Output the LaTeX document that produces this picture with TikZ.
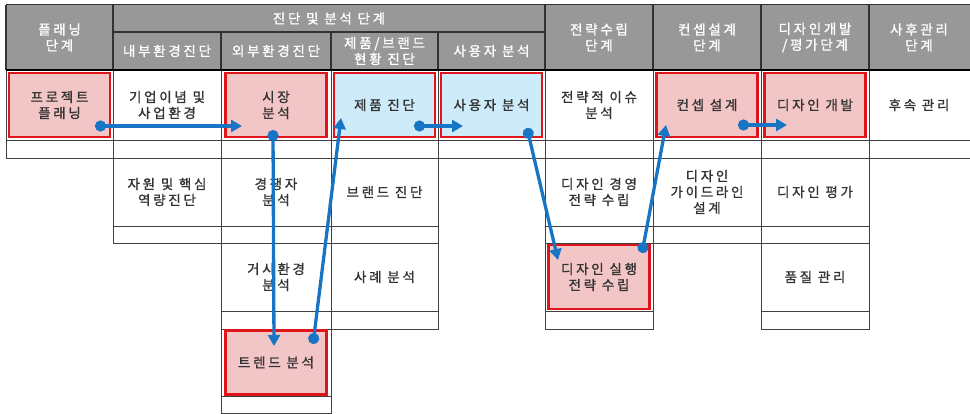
\documentclass[tikz,border=0pt]{standalone}
\usepackage{fontspec}
\newfontfamily\kr[LetterSpace=20,FakeBold=1.2]{Noto Sans CJK KR}
\usetikzlibrary{arrows.meta,positioning,calc}
\definecolor{hdrgray}{HTML}{989898}
\definecolor{hotfill}{HTML}{F2C5C6}
\definecolor{coolfill}{HTML}{CDEBF8}
\definecolor{hotred}{HTML}{E0141B}
\definecolor{flowblue}{HTML}{1874C4}

\begin{document}
\begin{tikzpicture}[
    x=1pt, y=-1pt,
    grid/.style={draw=black!75, line width=0.7pt},
    hdrline/.style={draw=black!80, line width=1.4pt},
    cell/.style={align=center, inner sep=0pt, font=\kr\fontsize{13.5}{16}\selectfont, text=black!80},
    hdr/.style={cell, text=white!90},
    hot/.style={cell, draw=hotred, line width=2.8pt, fill=hotfill, minimum width=101pt, minimum height=64pt},
    cool/.style={hot, fill=coolfill},
    flow/.style={draw=flowblue, line width=3.3pt, {Circle[length=11pt]}-{Triangle[length=11pt,width=12pt]}}
  ]
  \useasboundingbox (0,0) rectangle (970,414);

  % header
  \fill[hdrgray] (6,5) rectangle (972,70);
  \draw[hdrline, line width=1pt] (6,5) -- (972,5);
  \draw[hdrline] (6,5) -- (6,70) (113,5) -- (113,70) (545,5) -- (545,70)
    (653,5) -- (653,70) (761,5) -- (761,70) (869,5) -- (869,70);
  \draw[hdrline] (113,32) -- (545,32) (221,32) -- (221,70)
    (331,32) -- (331,70) (438,32) -- (438,70);

  \node[hdr] (hplan)  at (59.5,37.5) {플래닝\\단계};
  \node[hdr] (hdiag)  at (329,18.5)  {진단 및 분석 단계};
  \node[hdr] (hint)   at (167,51)    {내부환경진단};
  \node[hdr] (hext)   at (276,51)    {외부환경진단};
  \node[hdr] (hprod)  at (384.5,51)  {제품/브랜드\\현황 진단};
  \node[hdr] (huser)  at (491.5,51)  {사용자 분석};
  \node[hdr] (hstrat) at (599,37.5)  {전략수립\\단계};
  \node[hdr] (hconc)  at (707,37.5)  {컨셉설계\\단계};
  \node[hdr] (hdev)   at (815,37.5)  {디자인개발\\/평가단계};
  \node[hdr] (hpost)  at (919,37.5)  {사후관리\\단계};

  % table body
  \draw[grid] (6,140) -- (972,140) (6,158) -- (972,158);
  \draw[grid] (6,70) -- (6,158) (113,70) -- (113,158) (221,70) -- (221,158)
    (331,70) -- (331,158) (438,70) -- (438,158) (545,70) -- (545,158)
    (653,70) -- (653,158) (761,70) -- (761,158) (869,70) -- (869,158);
  \draw[grid] (113,158) rectangle (438,243) (113,226) -- (438,226)
    (221,158) -- (221,243) (331,158) -- (331,243);
  \draw[grid] (545,158) rectangle (869,243) (545,226) -- (869,226)
    (653,158) -- (653,243) (761,158) -- (761,243);
  \draw[grid] (221,243) rectangle (438,329) (221,311) -- (438,311)
    (331,243) -- (331,329);
  \draw[grid] (545,243) rectangle (653,329) (545,311) -- (653,311);
  \draw[grid] (761,243) rectangle (869,329) (761,311) -- (869,311);
  \draw[grid] (221,329) rectangle (331,413) (221,396) -- (331,396);
  \draw[black, line width=2pt] (6,70) -- (972,70);

  \node[hot]  (plan)    at (59.5,105) {프로젝트\\플래닝};
  \node[cell] (corp)    at (167,105)  {기업이념 및\\사업환경};
  \node[hot]  (market)  at (276,105)  {시장\\분석};
  \node[cool] (prod)    at (384.5,105) {제품 진단};
  \node[cool] (user)    at (491.5,105) {사용자 분석};
  \node[cell] (issue)   at (599,105)  {전략적 이슈\\분석};
  \node[hot]  (concept) at (707,105)  {컨셉 설계};
  \node[hot]  (dev)     at (815,105)  {디자인 개발};
  \node[cell] (post)    at (919,105)  {후속 관리};

  \node[cell] (res)     at (167,192)  {자원 및 핵심\\역량진단};
  \node[cell] (comp)    at (276,192)  {경쟁자\\분석};
  \node[cell] (brand)   at (384.5,192) {브랜드 진단};
  \node[cell] (mgmt)    at (599,192)  {디자인 경영\\전략 수립};
  \node[cell] (guide)   at (707,192)  {디자인\\가이드라인\\설계};
  \node[cell] (eval)    at (815,192)  {디자인 평가};

  \node[cell] (macro)   at (276,277)  {거시환경\\분석};
  \node[cell] (case)    at (384.5,277) {사례 분석};
  \node[hot]  (exec)    at (599,277)  {디자인 실행\\전략 수립};
  \node[cell] (qual)    at (815,277)  {품질 관리};

  \node[hot]  (trend)   at (276,362.5) {트렌드 분석};

  % flow
  \draw[flow] ([xshift=35.5pt,yshift=-21pt]plan.center) -- ([xshift=-34pt,yshift=-21pt]market.center);
  \draw[flow] ([xshift=-3pt,yshift=-25pt]market.center) -- ([xshift=-2pt,yshift=16.5pt]trend.center);
  \draw[flow] ([xshift=37pt,yshift=18.5pt]trend.center) -- ([xshift=-43.5pt,yshift=-13pt]prod.center);
  \draw[flow] ([xshift=29.5pt,yshift=-21pt]prod.center) -- ([xshift=-28.5pt,yshift=-21pt]user.center);
  \draw[flow] ([xshift=35.5pt,yshift=-23pt]user.center) -- ([xshift=-41pt,yshift=17pt]exec.center);
  \draw[flow] ([xshift=43pt,yshift=24pt]exec.center) -- ([xshift=-41pt,yshift=-20pt]concept.center);
  \draw[flow] ([xshift=31pt,yshift=-20pt]concept.center) -- ([xshift=-28pt,yshift=-20pt]dev.center);
\end{tikzpicture}
\end{document}
